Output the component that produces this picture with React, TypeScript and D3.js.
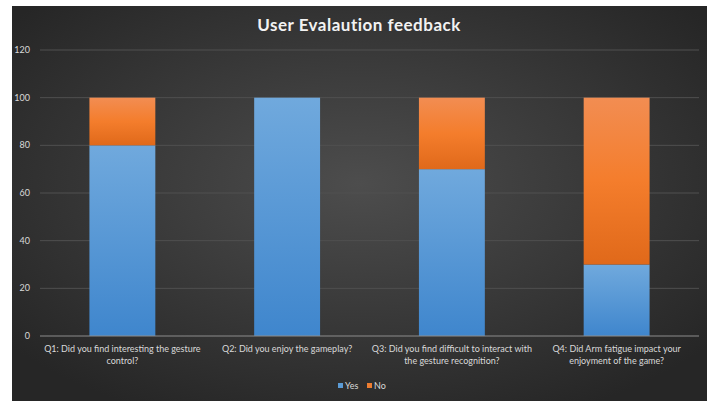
import React, { useEffect, useRef } from 'react';
import * as d3 from 'd3';

const categories = [
  ['Q1: Did you find interesting the gesture', 'control?'],
  ['Q2: Did you enjoy the gameplay?'],
  ['Q3: Did you find difficult to interact with', 'the gesture recognition?'],
  ['Q4: Did Arm fatigue impact your', 'enjoyment of the game?'],
];
const yesValues = [80, 100, 70, 30];
const noValues = [20, 0, 30, 70];
const seriesNames = ['Yes', 'No'];
const yTicks = [0, 20, 40, 60, 80, 100, 120];

export default function App() {
  const ref = useRef<SVGSVGElement>(null);

  useEffect(() => {
    const svg = d3.select(ref.current);
    svg.selectAll('*').remove();
    const W = 711, H = 401;
    const font = 'Lato, "Open Sans", sans-serif';

    const defs = svg.append('defs');
    const bg = defs.append('radialGradient').attr('id', 'bg').attr('cx', '50%').attr('cy', '45%').attr('r', '65%');
    bg.append('stop').attr('offset', '0%').attr('stop-color', '#4d4d4d');
    bg.append('stop').attr('offset', '100%').attr('stop-color', '#262626');
    const gb = defs.append('linearGradient').attr('id', 'gYes').attr('x1', 0).attr('y1', 0).attr('x2', 0).attr('y2', 1);
    gb.append('stop').attr('offset', '0%').attr('stop-color', '#70a9dd');
    gb.append('stop').attr('offset', '100%').attr('stop-color', '#3f86cd');
    const go = defs.append('linearGradient').attr('id', 'gNo').attr('x1', 0).attr('y1', 0).attr('x2', 0).attr('y2', 1);
    go.append('stop').attr('offset', '0%').attr('stop-color', '#f28d52');
    go.append('stop').attr('offset', '50%').attr('stop-color', '#f47d2c');
    go.append('stop').attr('offset', '100%').attr('stop-color', '#e0691a');

    svg.append('rect').attr('width', W).attr('height', H).attr('fill', '#fff');
    svg.append('rect').attr('x', 12).attr('y', 6).attr('width', 695).attr('height', H - 6).attr('fill', 'url(#bg)');

    const x = d3.scaleBand<number>().domain(d3.range(categories.length)).range([40, 699]).paddingInner(0.6).paddingOuter(0.3);
    const y = d3.scaleLinear().domain([0, 120]).range([336, 50]);

    // gridlines
    svg.append('g').selectAll('line').data(yTicks.slice(1)).enter().append('line')
      .attr('x1', 40).attr('x2', 699)
      .attr('y1', d => y(d)).attr('y2', d => y(d))
      .attr('stroke', '#505050').attr('stroke-width', 1);

    svg.append('g').selectAll('text').data(yTicks).enter().append('text')
      .attr('x', 30).attr('y', d => y(d)).attr('dy', '0.35em')
      .attr('text-anchor', 'end').attr('fill', '#d9d9d9')
      .attr('font-family', font).attr('font-size', 9)
      .text(d => d);

    const stacked = d3.stack<number>().keys(['yes', 'no'])
      .value((i, k) => (k === 'yes' ? yesValues[i] : noValues[i]))(d3.range(categories.length));
    const fills = ['url(#gYes)', 'url(#gNo)'];
    stacked.forEach((layer, li) => {
      svg.append('g').selectAll('rect').data(layer.filter(d => d[1] > d[0])).enter().append('rect')
        .attr('x', d => x(d.data)!)
        .attr('width', x.bandwidth())
        .attr('y', d => y(d[1]))
        .attr('height', d => y(d[0]) - y(d[1]))
        .attr('fill', fills[li]);
    });

    svg.append('line').attr('x1', 40).attr('x2', 699).attr('y1', y(0)).attr('y2', y(0))
      .attr('stroke', '#8c8c8c').attr('stroke-width', 1);

    const labels = svg.append('g').selectAll('text').data(categories).enter().append('text')
      .attr('text-anchor', 'middle').attr('fill', '#d9d9d9')
      .attr('font-family', font).attr('font-size', 9);
    labels.each(function (lines, i) {
      const t = d3.select(this);
      lines.forEach((ln, j) => {
        t.append('tspan').attr('x', x(i)! + x.bandwidth() / 2).attr('y', 352 + j * 12).text(ln);
      });
    });

    svg.append('text').attr('x', 359).attr('y', 31).attr('text-anchor', 'middle')
      .attr('fill', '#f2f2f2').attr('font-family', font).attr('font-weight', 'bold')
      .attr('font-size', 17).attr('letter-spacing', 0.5).text('User Evalaution feedback');

    const legendColors = ['#5b9bd5', '#ed7d31'];
    const lg = svg.append('g').attr('font-family', font).attr('font-size', 9).attr('fill', '#d9d9d9');
    const lx = [338, 367];
    seriesNames.forEach((n, i) => {
      lg.append('rect').attr('x', lx[i]).attr('y', 383).attr('width', 5).attr('height', 5).attr('fill', legendColors[i]);
      lg.append('text').attr('x', lx[i] + 7).attr('y', 386).attr('dy', '0.35em').text(n);
    });
  }, []);

  return (
    <svg ref={ref} width={711} height={401} style={{ position: 'absolute', left: 0, top: 0 }} />
  );
}
